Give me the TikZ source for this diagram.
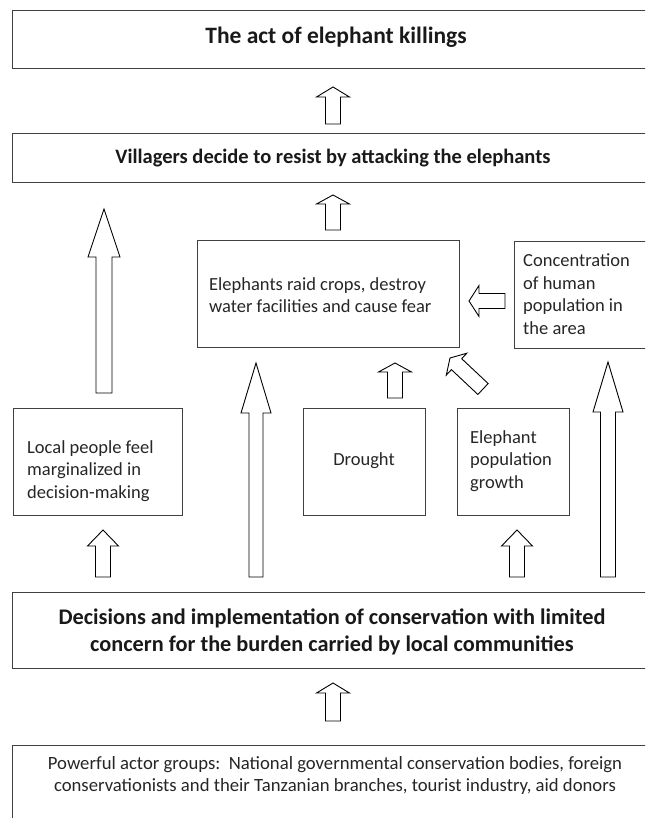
\documentclass[tikz,border=0pt]{standalone}
\usepackage{fontspec}
\setmainfont{Carlito}
\usetikzlibrary{calc}
\newcommand\blockarr[5]{%
  \coordinate (ba-c) at ($(#2)!#5!(#1)$);
  \draw[blockarrow] ($(#1)!#3!90:(#2)$) -- ($(ba-c)!#3!90:(#2)$) -- ($(ba-c)!#4!90:(#2)$) -- (#2)
    -- ($(ba-c)!#4!-90:(#2)$) -- ($(ba-c)!#3!-90:(#2)$) -- ($(#1)!#3!-90:(#2)$) -- cycle;}
\begin{document}
\begin{tikzpicture}[x=1pt,y=-1pt,
  box/.style={draw=black!75, line width=1.1pt, anchor=north west, inner sep=0pt},
  reg/.style={font=\fontsize{18.5}{22.5}\selectfont, align=left, inner sep=0pt, text=black!85},
  regc/.style={font=\fontsize{18.7}{22}\selectfont, align=center, inner sep=0pt, text=black!85},
  big/.style={font=\fontsize{23.5}{27}\selectfont\bfseries, align=center, inner sep=0pt, text=black!90},
  dec/.style={font=\fontsize{22.3}{27}\selectfont\bfseries, align=center, inner sep=0pt, text=black!90},
  mid/.style={font=\fontsize{20.5}{24}\selectfont\bfseries, align=center, inner sep=0pt, text=black!90},
  blockarrow/.style={draw=black, line width=0.9pt, fill=white, line join=miter}]
\useasboundingbox (0,0) rectangle (645,818);
\clip (0,0) rectangle (645,818);

% boxes
\node[box, minimum width=644pt, minimum height=58pt] (topbox) at (12,10) {};
\node[box, minimum width=644pt, minimum height=49pt] (vilbox) at (12,133) {};
\node[box, minimum width=262pt, minimum height=107pt] (raidbox) at (197,240) {};
\node[box, minimum width=142pt, minimum height=107pt] (concbox) at (514,241) {};
\node[box, minimum width=169pt, minimum height=107pt] (localbox) at (13,408) {};
\node[box, minimum width=122pt, minimum height=107pt] (droughtbox) at (303,408) {};
\node[box, minimum width=112pt, minimum height=107pt] (popbox) at (457,408) {};
\node[box, minimum width=644pt, minimum height=76pt] (decbox) at (12,592) {};
\node[box, minimum width=644pt, minimum height=100pt] (powbox) at (12,745) {};

% texts
\node[big] (toptxt) at (336,37) {The act of elephant killings};
\node[mid] (viltxt) at (333,158) {Villagers decide to resist by attacking the elephants};
\node[reg, anchor=west] (raidtxt) at (209,295) {Elephants raid crops, destroy\\water facilities and cause fear};
\node[reg, anchor=west] (conctxt) at (523,294) {Concentration\\of human\\population in\\the area};
\node[reg, anchor=west] (localtxt) at (27,471) {Local people feel\\marginalized in\\decision-making};
\node[reg] (droughttxt) at (364,461) {Drought};
\node[reg, anchor=west] (poptxt) at (470,461) {Elephant\\population\\growth};
\node[dec] (dectxt) at (332,632) {Decisions and implementation of conservation with limited\\concern for the burden carried by local communities};
\node[regc] (powtxt) at (335,776) {Powerful actor groups:\ \ National governmental conservation bodies, foreign\\conservationists and their Tanzanian branches, tourist industry, aid donors};

% arrow end points
\coordinate (a1s) at (333,124); \coordinate (a1e) at (333,87);
\coordinate (a2s) at (333,230); \coordinate (a2e) at (333,195);
\coordinate (a3s) at (104,393); \coordinate (a3e) at (104,209);
\coordinate (a4s) at (505,301); \coordinate (a4e) at (469,301);
\coordinate (a5s) at (483,389); \coordinate (a5e) at (450,358);
\coordinate (a6s) at (395,398); \coordinate (a6e) at (395,363);
\coordinate (a7s) at (256,577); \coordinate (a7e) at (256,363);
\coordinate (a8s) at (608,577); \coordinate (a8e) at (608,362);
\coordinate (a9s) at (103,577); \coordinate (a9e) at (103,530);
\coordinate (a10s) at (517,577); \coordinate (a10e) at (517,530);
\coordinate (a11s) at (333,721); \coordinate (a11e) at (333,683);

\blockarr{a1s}{a1e}{7.5pt}{16.5pt}{10pt}
\blockarr{a2s}{a2e}{7.5pt}{16.5pt}{9pt}
\blockarr{a3s}{a3e}{8pt}{16pt}{48pt}
\blockarr{a4s}{a4e}{7.5pt}{15.5pt}{10pt}
\blockarr{a5s}{a5e}{7.5pt}{15pt}{9pt}
\blockarr{a6s}{a6e}{7.5pt}{16.5pt}{9pt}
\blockarr{a7s}{a7e}{7pt}{15pt}{50pt}
\blockarr{a8s}{a8e}{7.5pt}{15pt}{50pt}
\blockarr{a9s}{a9e}{7.5pt}{15.5pt}{16pt}
\blockarr{a10s}{a10e}{7.5pt}{15.5pt}{16pt}
\blockarr{a11s}{a11e}{7.5pt}{16.5pt}{10pt}
\end{tikzpicture}
\end{document}
